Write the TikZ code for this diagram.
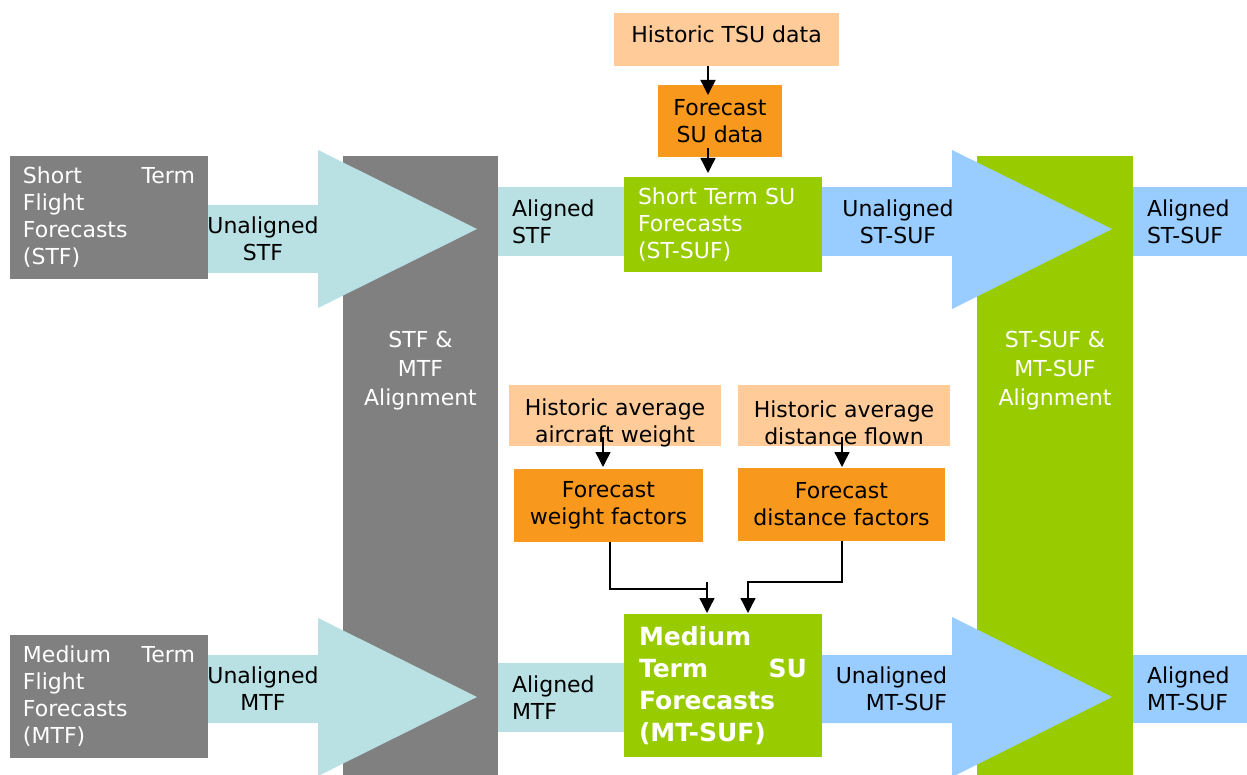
\documentclass[tikz,border=0pt]{standalone}
\usepackage{fontspec}
\setmainfont{DejaVu Sans}
\usetikzlibrary{arrows.meta,calc}
\definecolor{grayc}{HTML}{808080}
\definecolor{cyanc}{HTML}{B9E0E3}
\definecolor{greenc}{HTML}{99CC00}
\definecolor{bluec}{HTML}{99CCFF}
\definecolor{peachc}{HTML}{FFCC99}
\definecolor{orangec}{HTML}{F8991D}
\begin{document}
\begin{tikzpicture}[x=1pt,y=-1pt,
  txt/.style={font=\fontsize{22}{27}\selectfont},
  cell/.style={rectangle, inner sep=0pt, outer sep=0pt, align=center, txt},
  bartext/.style={cell, text=white, font=\fontsize{22}{29}\selectfont},
  flow/.style={line width=1.4pt, -{Triangle[width=15pt,length=15pt]}},
  link/.style={line width=1.4pt},
]
\useasboundingbox (0,0) rectangle (1247,775);
\fill[white] (0,0) rectangle (1247,775);

% alignment bars
\node[cell, fill=grayc, minimum width=155pt, minimum height=619pt] (bar1) at (420.5,465.5) {};
\node[cell, fill=greenc, minimum width=156pt, minimum height=619pt] (bar2) at (1055,465.5) {};
\node[bartext] (bar1t) at (420.5,371) {STF \&\\MTF\\Alignment};
\node[bartext] (bar2t) at (1055,371) {ST-SUF \&\\MT-SUF\\Alignment};

% cyan arrows
\fill[cyanc] (208,205) -- (318,205) -- (318,150) -- (477,229) -- (318,308) -- (318,273) -- (208,273) -- cycle;
\fill[cyanc] (208,655) -- (318,655) -- (318,618) -- (477,697) -- (318,776) -- (318,723) -- (208,723) -- cycle;
\node[cell] (ustf) at (263,239) {Unaligned\\STF};
\node[cell] (umtf) at (263,689) {Unaligned\\MTF};

% flight forecast boxes
\node[cell, fill=grayc, text=white, minimum width=198pt, minimum height=123pt, text width=172pt, align=left] (stf) at (109,217.5)
  {\makebox[172pt][s]{Short\hfill Term}\\Flight\\Forecasts\\(STF)};
\node[cell, fill=grayc, text=white, minimum width=198pt, minimum height=123pt, text width=172pt, align=left] (mtf) at (109,696.5)
  {\makebox[172pt][s]{Medium\hfill Term}\\Flight\\Forecasts\\(MTF)};

% aligned flight forecasts
\node[cell, fill=cyanc, minimum width=126pt, minimum height=69pt, text width=98pt, align=left] (astf) at (561,221.5) {Aligned\\STF};
\node[cell, fill=cyanc, minimum width=126pt, minimum height=69pt, text width=98pt, align=left] (amtf) at (561,697.5) {Aligned\\MTF};

% blue arrows
\fill[bluec] (822,187) rectangle (953,256);
\node[cell] (ustsuf) at (898,221.5) {Unaligned\\ST-SUF};
\fill[bluec] (952,150) -- (1112,229) -- (952,309) -- cycle;
\fill[bluec] (822,655) -- (952,655) -- (952,617) -- (1112,697) -- (952,777) -- (952,723) -- (822,723) -- cycle;
\node[cell, align=right, anchor=east] (umtsuf) at (947,689) {Unaligned\\MT-SUF};

% SU forecast boxes
\node[cell, fill=greenc, text=white, minimum width=198pt, minimum height=95pt, text width=170pt, align=left] (stsuf) at (723,224.5)
  {Short Term SU\\Forecasts\\(ST-SUF)};
\node[cell, fill=greenc, text=white, minimum width=198pt, minimum height=143pt, text width=168pt, align=left,
  font=\fontsize{25}{32}\selectfont\bfseries] (mtsuf) at (723,685.5)
  {Medium\\\makebox[168pt][s]{Term\hfill SU}\\Forecasts\\(MT-SUF)};

% aligned SU forecasts
\node[cell, fill=bluec, minimum width=114pt, minimum height=69pt, text width=86pt, align=left] (astsuf) at (1190,221.5) {Aligned\\ST-SUF};
\node[cell, fill=bluec, minimum width=114pt, minimum height=68pt, text width=86pt, align=left] (amtsuf) at (1190,689) {Aligned\\MT-SUF};

% inputs
\node[cell, fill=peachc, minimum width=225pt, minimum height=53pt,
  label={[txt, yshift=5pt]center:Historic TSU data}] (hist) at (726.5,39.5) {};
\node[cell, fill=orangec, minimum width=124pt, minimum height=72pt] (fsu) at (720,121) {Forecast\\SU data};
\node[cell, fill=peachc, minimum width=212pt, minimum height=61pt,
  label={[txt, align=center, yshift=-7pt]center:{Historic average\\aircraft weight}}] (haw) at (615,415.5) {};
\node[cell, fill=peachc, minimum width=212pt, minimum height=61pt,
  label={[txt, align=center, yshift=-7pt]center:{Historic average\\distance flown}}] (had) at (844,415.5) {};
\node[cell, fill=orangec, minimum width=189pt, minimum height=73pt] (fwf) at (608.5,505.5) {Forecast\\weight factors};
\node[cell, fill=orangec, minimum width=207pt, minimum height=73pt] (fdf) at (841.5,504.5) {Forecast\\distance factors};

% connectors
\draw[flow] ($(hist.south)+(-18.5,0)$) -- ($(fsu.north)+(-12,10)$);
\draw[flow] ($(fsu.south)+(-12,-9)$) -- ($(stsuf.north)+(-15,-4)$);
\draw[flow] ($(haw.south)+(-12,-9)$) -- ($(fwf.north)+(-5.5,-2)$);
\draw[flow] ($(had.south)+(-2,-9)$) -- ($(fdf.north)+(0.5,-1)$);
\coordinate (j0) at (707,582);
\coordinate (j1) at (707,589);
\draw[link] ($(fwf.south)+(1.5,0)$) |- (j1);
\draw[flow] (j0) -- ($(mtsuf.north)+(-16,-1)$);
\draw[flow] ($(fdf.south)+(0.5,0)$) |- ($(mtsuf.north)+(25,-32)$) -- ($(mtsuf.north)+(25,-1)$);
\end{tikzpicture}
\end{document}
